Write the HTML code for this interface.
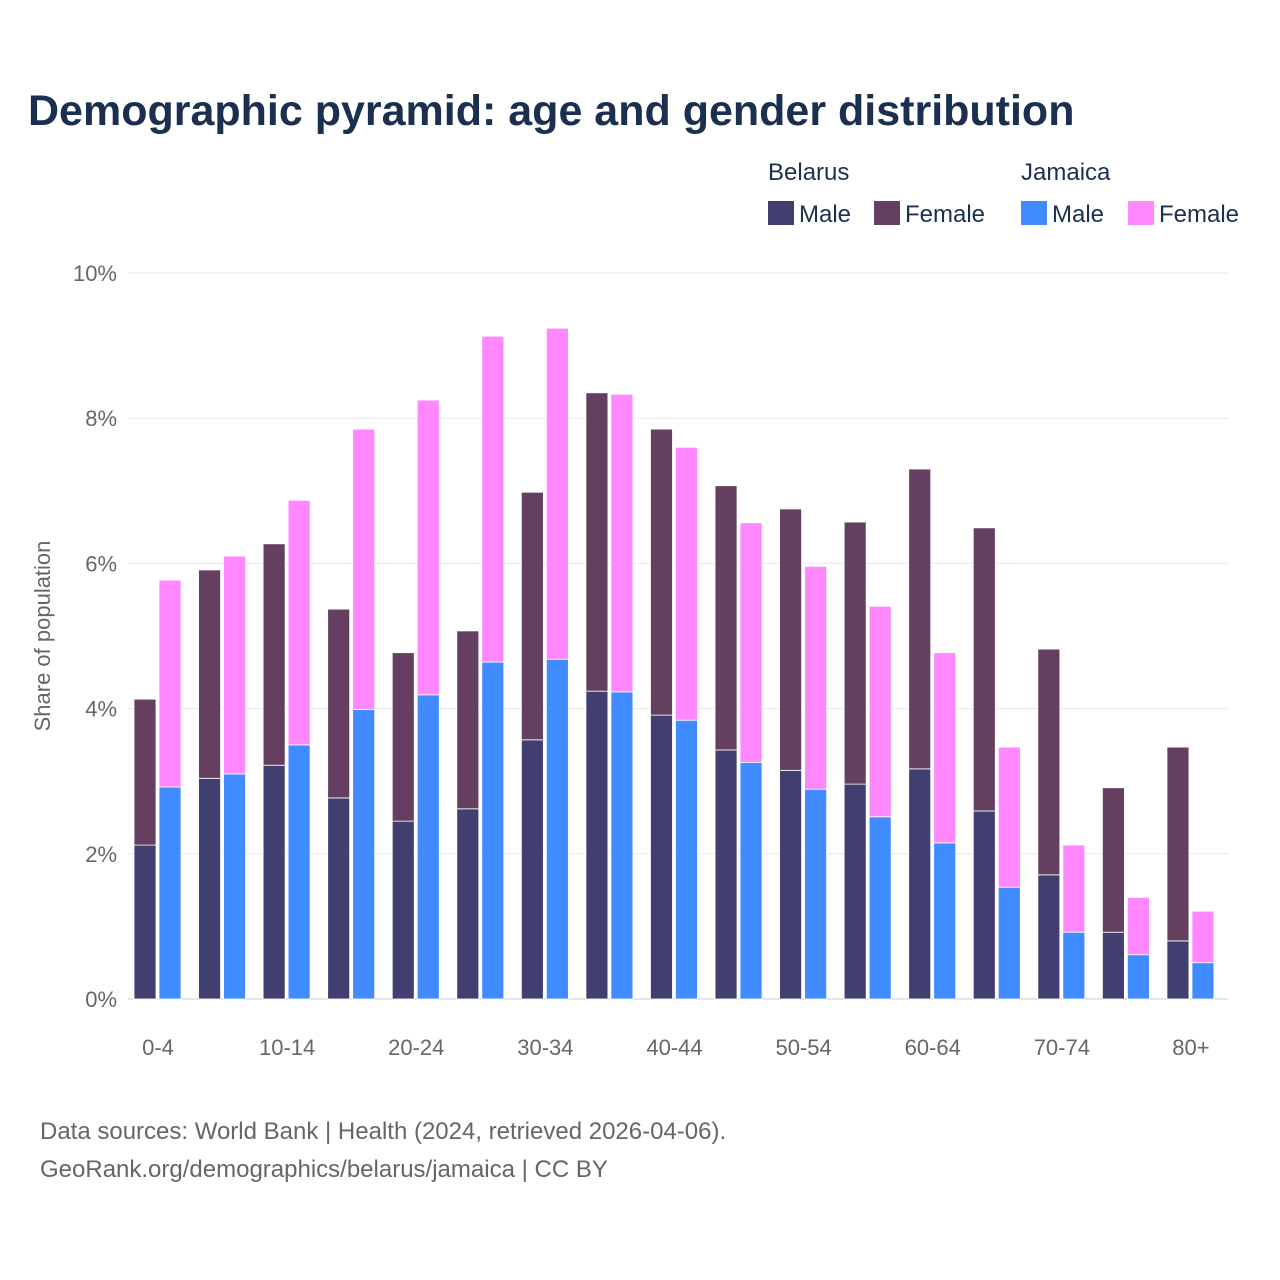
<!DOCTYPE html>
<html><head><meta charset="utf-8"><style>
body{margin:0;background:#fff;}
svg{display:block;font-family:"Liberation Sans",sans-serif;}
</style></head><body>
<svg id="c" width="1280" height="1280" viewBox="0 0 1280 1280">
<text x="28" y="125" font-size="43" font-weight="bold" fill="#1b2f50">Demographic pyramid: age and gender distribution</text>
<g font-size="24" fill="#1b2f50">
<text x="768" y="180">Belarus</text>
<text x="1021" y="180">Jamaica</text>
<g><rect x="768" y="201" width="26" height="24" fill="#413f6f"/><text x="799" y="222">Male</text></g>
<g><rect x="874" y="201" width="26" height="24" fill="#653f5f"/><text x="905" y="222">Female</text></g>
<g><rect x="1021" y="201" width="26" height="24" fill="#3f8bff"/><text x="1052" y="222">Male</text></g>
<g><rect x="1128" y="201" width="26" height="24" fill="#ff88ff"/><text x="1159" y="222">Female</text></g>
</g>
<g id="grid"></g><g id="bars"></g><g id="axes"></g>
<text transform="translate(50,636) rotate(-90)" text-anchor="middle" font-size="22" fill="#666">Share of population</text>
<text x="40" y="1139" font-size="24" fill="#666">Data sources: World Bank | Health (2024, retrieved 2026-04-06).</text>
<text x="40" y="1177" font-size="24" fill="#666">GeoRank.org/demographics/belarus/jamaica | CC BY</text>
</svg>
<script>
const categories=["0-4","5-9","10-14","15-19","20-24","25-29","30-34","35-39","40-44","45-49","50-54","55-59","60-64","65-69","70-74","75-79","80+"];
const belarusMale=[2.12,3.04,3.22,2.77,2.45,2.62,3.57,4.24,3.91,3.43,3.15,2.96,3.17,2.59,1.71,0.92,0.80];
const belarusFemale=[2.01,2.87,3.05,2.60,2.32,2.45,3.41,4.11,3.94,3.64,3.60,3.61,4.13,3.90,3.11,1.99,2.67];
const jamaicaMale=[2.92,3.10,3.50,3.99,4.19,4.64,4.68,4.23,3.84,3.26,2.89,2.51,2.15,1.54,0.92,0.61,0.50];
const jamaicaFemale=[2.85,3.00,3.37,3.86,4.06,4.49,4.56,4.10,3.76,3.30,3.07,2.90,2.62,1.93,1.20,0.79,0.71];
const yTicks=[0,2,4,6,8,10];
const NS="http://www.w3.org/2000/svg";
const y=v=>999-v*72.6;
const xc=i=>158+i*64.56;
function mk(tag,attrs,parent){const e=document.createElementNS(NS,tag);for(const k in attrs)e.setAttribute(k,attrs[k]);parent.appendChild(e);return e;}
const grid=document.getElementById('grid'),bars=document.getElementById('bars'),axes=document.getElementById('axes');
yTicks.forEach(t=>{
  const l=mk('line',{x1:128,x2:1228,y1:y(t),y2:y(t),stroke:t===0?'#ccc':'#e8e8e8','stroke-width':1},grid);
  
  
  const tx=mk('text',{x:117,y:y(t)+8,'text-anchor':'end','font-size':22,fill:'#666'},axes);
  tx.textContent=t+'%';
  
  
});
function seg(x,v0,v1,fill,name){
  const r=mk('rect',{x:x,y:y(v1),width:22,height:y(v0)-y(v1),fill:fill,stroke:'#fff','stroke-width':0.8},bars);
  
  
}
categories.forEach((c,i)=>{
  const cx=xc(i);
  seg(cx-24,0,belarusMale[i],'#413f6f','bar-belarus-male-'+c);
  seg(cx-24,belarusMale[i],belarusMale[i]+belarusFemale[i],'#653f5f','bar-belarus-female-'+c);
  seg(cx+1,0,jamaicaMale[i],'#3f8bff','bar-jamaica-male-'+c);
  seg(cx+1,jamaicaMale[i],jamaicaMale[i]+jamaicaFemale[i],'#ff88ff','bar-jamaica-female-'+c);
  if(i%2===0){
    const t=mk('text',{x:cx,y:1055,'text-anchor':'middle','font-size':22,fill:'#666'},axes);
    t.textContent=c;
    
    
  }
});
</script>
</body></html>
